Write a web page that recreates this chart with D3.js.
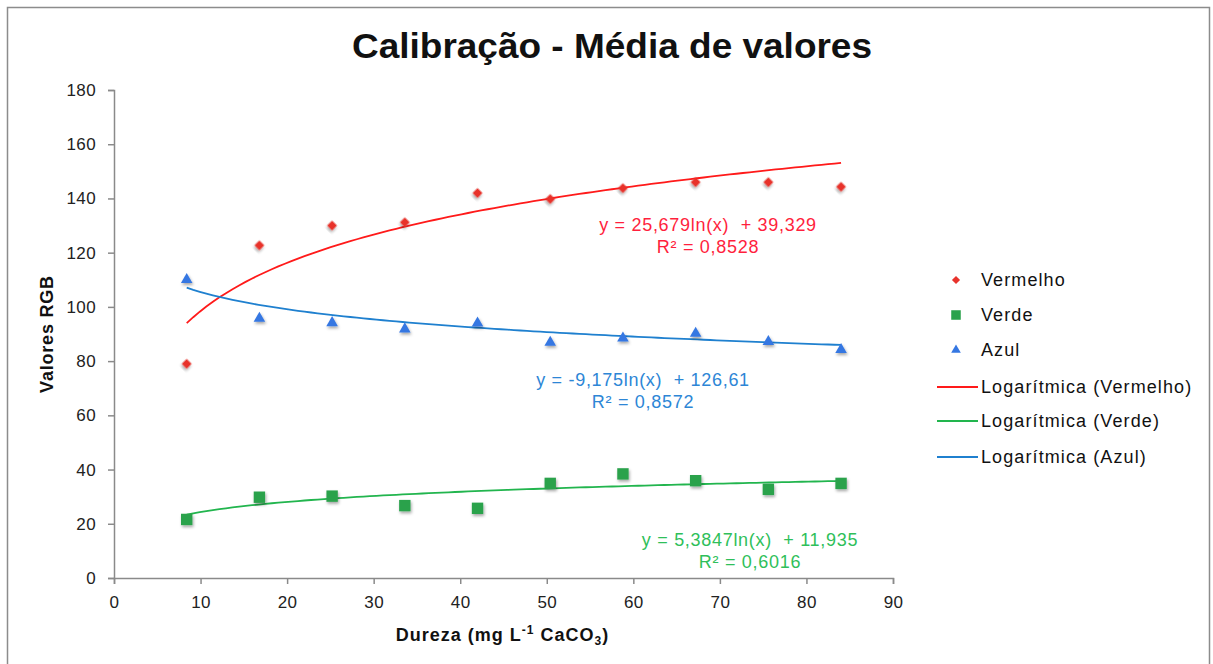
<!DOCTYPE html>
<html>
<head>
<meta charset="utf-8">
<script src="https://cdn.jsdelivr.net/npm/d3@7"></script>
<style>
  body { margin: 0; background: #fff; }
  text { font-family: "Liberation Sans", Arial, sans-serif; white-space: pre; }
</style>
</head>
<body>
<div id="chartDiv"></div>
<script>
// data
var dureza = [8.4, 16.8, 25.2, 33.6, 42, 50.4, 58.8, 67.2, 75.6, 84];
var vermelho = [79, 122.7, 130, 131.2, 142, 139.8, 143.8, 146, 146, 144.3];
var verde = [21.6, 29.8, 30.2, 26.7, 25.7, 34.9, 38.4, 35.9, 32.7, 34.9];
var azul = [110.4, 96.1, 94.5, 92.2, 94.4, 87.3, 88.8, 90.6, 87.5, 84.6];

// trendline coefficients  y = a ln(x) + b
var fitVermelho = [25.679, 39.329];
var fitVerde = [5.3847, 11.935];
var fitAzul = [-9.175, 126.61];

var xTicks = [0, 10, 20, 30, 40, 50, 60, 70, 80, 90];
var yTicks = [0, 20, 40, 60, 80, 100, 120, 140, 160, 180];

var eqTexts = [
  ["y = 25,679ln(x)  + 39,329", "R\u00b2 = 0,8528"],
  ["y = 5,3847ln(x)  + 11,935", "R\u00b2 = 0,6016"],
  ["y = -9,175ln(x)  + 126,61", "R\u00b2 = 0,8572"]
];
var legendNames = ["Vermelho", "Verde", "Azul", "Logar\u00edtmica (Vermelho)", "Logar\u00edtmica (Verde)", "Logar\u00edtmica (Azul)"];

;(function() {
  var width = 1213, height = 664;
  var margin = { top: 90, left: 114, right: 320, bottom: 86 };
  var chartWidth = width - margin.left - margin.right;   // 779
  var chartHeight = height - margin.top - margin.bottom; // 488

  var svg = d3.select("#chartDiv").append("svg")
    .attr("width", width).attr("height", height);

  var defs = svg.append("defs");
  var f = defs.append("filter").attr("id", "shadow")
    .attr("x", "-50%").attr("y", "-50%").attr("width", "200%").attr("height", "200%");
  f.append("feDropShadow").attr("dx", 1).attr("dy", 2).attr("stdDeviation", 1.5)
    .attr("flood-color", "#000").attr("flood-opacity", 0.35);

  // frame
  svg.append("path")
    .attr("d", "M7.5,664 V7.5 H1209.5 V664")
    .attr("fill", "none").attr("stroke", "#8c8c8c").attr("stroke-width", 1.5);

  // title
  svg.append("text")
    .attr("x", 612).attr("y", 58)
    .attr("text-anchor", "middle")
    .attr("textLength", 520).attr("lengthAdjust", "spacingAndGlyphs")
    .style("font-size", "35px").style("font-weight", "bold")
    .attr("fill", "#111")
    .text("Calibra\u00e7\u00e3o - M\u00e9dia de valores");

  var x = d3.scaleLinear().domain([0, 90]).range([0, chartWidth]);
  var y = d3.scaleLinear().domain([0, 180]).range([chartHeight, 0]);

  var plot = svg.append("g")
    .attr("transform", "translate(" + margin.left + "," + margin.top + ")");

  // axes
  var xAxis = d3.axisBottom(x).tickValues(xTicks).tickSizeInner(6).tickSizeOuter(6).tickPadding(8);
  var yAxis = d3.axisLeft(y).tickValues(yTicks).tickSizeInner(6).tickSizeOuter(6).tickPadding(12);

  var gx = plot.append("g").attr("transform", "translate(0," + chartHeight + ")").call(xAxis);
  var gy = plot.append("g").call(yAxis);
  [gx, gy].forEach(function(g) {
    g.selectAll("path, line").attr("stroke", "#8a8a8a").attr("stroke-width", 1.5);
    g.selectAll("text").style("font-size", "17px").attr("fill", "#222")
      .style("letter-spacing", "0.4px")
      .style("font-family", "'Liberation Sans', Arial, sans-serif");
  });
  gx.selectAll("text").attr("dy", "0.95em");

  // axis titles
  svg.append("text")
    .attr("transform", "translate(53," + (margin.top + chartHeight / 2) + ") rotate(-90)")
    .attr("text-anchor", "middle")
    .style("font-size", "18px").style("font-weight", "bold").style("letter-spacing", "0.8px")
    .attr("fill", "#111")
    .text("Valores RGB");

  var xt = svg.append("text")
    .attr("x", margin.left + chartWidth / 2 - 1).attr("y", 641)
    .attr("text-anchor", "middle")
    .style("font-size", "18px").style("font-weight", "bold").style("letter-spacing", "1px")
    .attr("fill", "#111");
  xt.append("tspan").text("Dureza (mg L");
  xt.append("tspan").attr("dy", -7).style("font-size", "12px").text("-1");
  xt.append("tspan").attr("dy", 7).text(" CaCO");
  xt.append("tspan").attr("dy", 4).style("font-size", "12px").text("3");
  xt.append("tspan").attr("dy", -4).text(")");

  var series = [
    { name: "Vermelho", vals: vermelho, fit: fitVermelho, marker: "#e8332c", line: "#ff1a1a", text: "#ff1f3d", shape: d3.symbolSquare, size: 48, rot: 45 },
    { name: "Verde", vals: verde, fit: fitVerde, marker: "#2ba24c", line: "#22b54e", text: "#2fbf5a", shape: d3.symbolSquare, size: 130, rot: 0 },
    { name: "Azul", vals: azul, fit: fitAzul, marker: "#3577e2", line: "#1f80cf", text: "#2d86d6", shape: d3.symbolTriangle, size: 58, rot: 0 }
  ];

  // trendlines
  var line = d3.line().x(function(d) { return x(d[0]); }).y(function(d) { return y(d[1]); });
  series.forEach(function(s) {
    var pts = [];
    var x0 = dureza[0], x1 = dureza[dureza.length - 1];
    for (var i = 0; i <= 100; i++) {
      var xv = x0 + (x1 - x0) * i / 100;
      pts.push([xv, s.fit[0] * Math.log(xv) + s.fit[1]]);
    }
    plot.append("path").datum(pts)
      .attr("d", line).attr("fill", "none")
      .attr("stroke", s.line).attr("stroke-width", 1.8);
  });

  // markers
  series.forEach(function(s) {
    plot.selectAll(".dot-" + s.name)
      .data(dureza.map(function(d, i) { return [d, s.vals[i]]; }))
      .enter().append("path")
      .attr("class", "dot-" + s.name)
      .attr("d", d3.symbol().type(s.shape).size(s.size))
      .attr("transform", function(d) {
        var dy = s.shape === d3.symbolTriangle ? 1 : 0;
        return "translate(" + x(d[0]) + "," + (y(d[1]) + dy) + ") rotate(" + s.rot + ")";
      })
      .attr("fill", s.marker)
      .attr("filter", "url(#shadow)");
  });

  // equation labels
  var eqPos = [[708, 231], [750, 546], [643, 386]];
  series.forEach(function(s, i) {
    var t = svg.append("text")
      .attr("x", eqPos[i][0]).attr("y", eqPos[i][1])
      .attr("text-anchor", "middle")
      .style("font-size", "18px").style("letter-spacing", "0.7px")
      .attr("fill", s.text);
    t.append("tspan").attr("x", eqPos[i][0]).text(eqTexts[i][0]);
    t.append("tspan").attr("x", eqPos[i][0]).attr("dy", 22).text(eqTexts[i][1]);
  });

  // legend
  var legend = svg.append("g");
  var ly = [280, 315, 350, 387, 421, 457];
  legendNames.forEach(function(name, i) {
    var s = series[i % 3];
    if (i < 3) {
      legend.append("path")
        .attr("d", d3.symbol().type(s.shape).size(s.size * 0.7))
        .attr("transform", "translate(956," + ly[i] + ") rotate(" + s.rot + ")")
        .attr("fill", s.marker);
    } else {
      legend.append("line")
        .attr("x1", 937).attr("x2", 978).attr("y1", ly[i]).attr("y2", ly[i])
        .attr("stroke", s.line).attr("stroke-width", 1.8);
    }
    legend.append("text")
      .attr("x", 981).attr("y", ly[i]).attr("dy", "0.35em")
      .style("font-size", "18px").style("letter-spacing", "1.1px")
      .attr("fill", "#111")
      .text(name);
  });
})();
</script>
</body>
</html>
